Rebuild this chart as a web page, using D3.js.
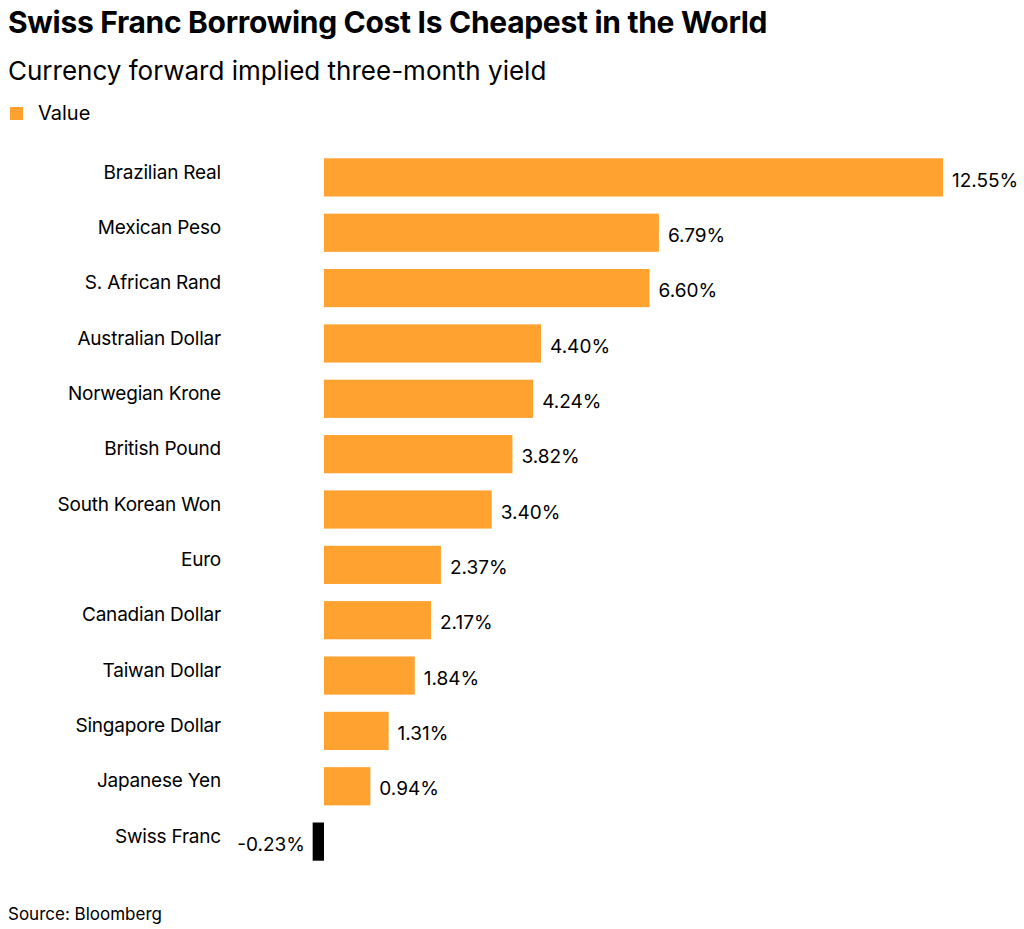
<!DOCTYPE html>
<html>
<head>
<meta charset="utf-8">
<script src="https://cdn.jsdelivr.net/npm/d3@7"></script>
<style>
  body { margin: 0; background: #fff; font-family: Inter, "Liberation Sans", Arial, sans-serif; }
</style>
</head>
<body>
<svg id="chart" width="1024" height="929"></svg>
<script>
// data
const currencies = ["Brazilian Real", "Mexican Peso", "S. African Rand", "Australian Dollar",
  "Norwegian Krone", "British Pound", "South Korean Won", "Euro", "Canadian Dollar",
  "Taiwan Dollar", "Singapore Dollar", "Japanese Yen", "Swiss Franc"];
const yields = [12.55, 6.79, 6.60, 4.40, 4.24, 3.82, 3.40, 2.37, 2.17, 1.84, 1.31, 0.94, -0.23];

const svg = d3.select("#chart");
const orange = "#ffa22f";

svg.append("text").attr("x", 8).attr("y", 33)
  .attr("font-size", 30).attr("font-weight", "bold").attr("fill", "#000")
  .attr("letter-spacing", -0.3)
  .text("Swiss Franc Borrowing Cost Is Cheapest in the World");
svg.append("text").attr("x", 8).attr("y", 80)
  .attr("font-size", 26).attr("fill", "#000")
  .text("Currency forward implied three-month yield");

// legend
svg.append("rect").attr("x", 10).attr("y", 107).attr("width", 13).attr("height", 13).attr("fill", orange);
svg.append("text").attr("x", 38).attr("y", 120).attr("font-size", 20).text("Value");

const x = d3.scaleLinear().domain([0, 12.55]).range([324, 943]);
const y = d3.scaleBand().domain(currencies).range([150, 869]).paddingInner(0.31).paddingOuter(0.15);

const rows = svg.append("g").selectAll("g")
  .data(currencies.map((c, i) => ({ name: c, v: yields[i] })))
  .enter().append("g");

rows.append("rect")
  .attr("x", d => x(Math.min(0, d.v)))
  .attr("y", d => y(d.name))
  .attr("width", d => d.v < 0 ? Math.max(10, x(0) - x(d.v)) : x(d.v) - x(0))
  .attr("height", y.bandwidth())
  .attr("fill", d => d.v < 0 ? "#000" : orange);

rows.append("text")
  .attr("x", 221)
  .attr("y", d => y(d.name) + y.bandwidth() / 2 - 4)
  .attr("text-anchor", "end")
  .attr("dominant-baseline", "middle")
  .attr("font-size", 19)
  .attr("letter-spacing", -0.2)
  .text(d => d.name);

rows.append("text")
  .attr("x", d => d.v < 0 ? x(0) - 19 : x(d.v) + 9)
  .attr("y", d => y(d.name) + y.bandwidth() / 2 + 4)
  .attr("text-anchor", d => d.v < 0 ? "end" : "start")
  .attr("dominant-baseline", "middle")
  .attr("font-size", 19)
  .text(d => d.v.toFixed(2) + "%");

svg.append("text").attr("x", 8).attr("y", 920).attr("font-size", 17).attr("fill", "#000")
  .text("Source: Bloomberg");
</script>
</body>
</html>
